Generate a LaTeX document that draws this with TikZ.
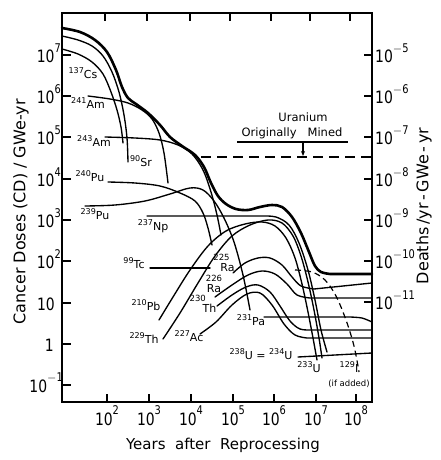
\documentclass[tikz,border=0pt]{standalone}
\usepackage{fontspec}
\setmainfont{DejaVu Sans}
\newfontfamily\numfont[FakeStretch=0.82]{DejaVu Sans}
\usetikzlibrary{arrows.meta}
\newcommand\sups[1]{\raisebox{0.6em}{\fontsize{12}{12}\selectfont #1}}
\newcommand\iso[2]{\raisebox{0.45em}{\fontsize{8}{8}\selectfont #1}#2}
\begin{document}
\begin{tikzpicture}[x=1pt,y=-1pt,
  curve/.style={line width=1.35pt, line cap=round, line join=round},
  tot/.style={line width=2.6pt, line cap=round, line join=round},
  lab/.style={font=\fontsize{11}{12}\selectfont, inner sep=0pt},
  num/.style={font=\numfont\fontsize{17}{18}\selectfont, inner sep=0pt},
  ttl/.style={font=\fontsize{16}{17}\selectfont, inner sep=0pt},
  tickline/.style={line width=1.4pt},
]
\useasboundingbox (0,0) rectangle (440,460);
\fill[white] (0,0) rectangle (440,460);

% frame
\draw[line width=1.8pt] (62,13) rectangle (372,402);

% x ticks
\foreach \x in {107,149,191,233,274,316,356} \draw[tickline] (\x,402) -- (\x,394);
\foreach \x in {105,147,190,230,271,310,350} \draw[tickline] (\x,13) -- (\x,21);
% left ticks
\foreach \y in {55,96,137,179,220,261,303,344,385} \draw[tickline] (62,\y) -- (71,\y);
% right ticks
\foreach \y in {55,96,137,179,220,261,302} \draw[tickline] (372,\y) -- (364,\y);

% left tick labels
\node[num, anchor=base east] (yl7) at (61,62.5) {10\sups{7}};
\node[num, anchor=base east] (yl6) at (61,103.5) {10\sups{6}};
\node[num, anchor=base east] (yl5) at (61,144.5) {10\sups{5}};
\node[num, anchor=base east] (yl4) at (61,186.5) {10\sups{4}};
\node[num, anchor=base east] (yl3) at (61,227.5) {10\sups{3}};
\node[num, anchor=base east] (yl2) at (61,268.5) {10\sups{2}};
\node[num, anchor=base east] (yl1) at (55,310) {10};
\node[num, anchor=base east] (yl0) at (54,351) {1};
\node[num, anchor=base east] (ylm) at (63,392) {10\sups{$-$1}};

% right tick labels
\node[num, anchor=base west] (yr5) at (375,62.5) {10\sups{$-$5}};
\node[num, anchor=base west] (yr6) at (375,103.5) {10\sups{$-$6}};
\node[num, anchor=base west] (yr7) at (375,144.5) {10\sups{$-$7}};
\node[num, anchor=base west] (yr8) at (375,186.5) {10\sups{$-$8}};
\node[num, anchor=base west] (yr9) at (375,227.5) {10\sups{$-$9}};
\node[num, anchor=base west] (yr10) at (375,268.5) {10\sups{$-$10}};
\node[num, anchor=base west] (yr11) at (375,309.5) {10\sups{$-$11}};

% bottom tick labels
\node[num, anchor=base] (x2) at (107,425) {10\sups{2}};
\node[num, anchor=base] (x3) at (149,425) {10\sups{3}};
\node[num, anchor=base] (x4) at (191,425) {10\sups{4}};
\node[num, anchor=base] (x5) at (233,425) {10\sups{5}};
\node[num, anchor=base] (x6) at (274,425) {10\sups{6}};
\node[num, anchor=base] (x7) at (316,425) {10\sups{7}};
\node[num, anchor=base] (x8) at (356,425) {10\sups{8}};

% axis titles
\node[ttl, font=\fontsize{15}{16}\selectfont] (xt) at (223,445) {Years\ \ after\ \ Reprocessing};
\node[ttl, rotate=90] (ytl) at (21,212) {Cancer Doses (CD) / GWe-yr};
\node[ttl, rotate=90] (ytr) at (424,206) {Deaths\,/yr\,-\,GWe\,-\,yr};

% Uranium originally mined
\node[font=\fontsize{11.5}{12}\selectfont, inner sep=0pt] (ur) at (303,117) {Uranium};
\node[font=\fontsize{11.5}{12}\selectfont, inner sep=0pt] (om) at (292,133) {Originally\ \ \ Mined};
\coordinate (ul1) at (237,142);
\coordinate (ul2) at (348,142);
\coordinate (ua) at (303,142);
\coordinate (ub) at (303,156);
\draw[line width=1.3pt] (ul1) -- (ul2);
\draw[line width=1.3pt, -{Stealth[length=5pt,width=4pt]}] (ua) -- (ub);
\draw[line width=1.6pt, dash pattern=on 10pt off 6pt] (201,157) -- (372,157);

% ---- curves ----
% total
\draw[tot] plot[smooth, tension=0.55] coordinates {(62,28) (80,32) (95,40) (107,52) (116,70) (122,87) (128,98) (136,104) (148,113) (160,125) (170,137) (182,146) (195,155) (204,167) (211,183) (218,196) (226,204) (236,209) (248,210) (260,207) (272,205) (282,207) (292,217) (301,233) (309,252) (315,266) (321,272) (330,274)} -- (372,274);
% 90Sr
\draw[curve] plot[smooth, tension=0.55] coordinates {(62,36) (78,40) (92,46) (103,56) (112,72) (119,92) (124,115) (127,138) (128,162)};
% 137Cs
\draw[curve] plot[smooth, tension=0.55] coordinates {(62,49) (78,54) (92,62) (103,74) (111,92) (117,110) (121,127) (123,143)};
% 241Am
\draw[curve] plot[smooth, tension=0.55] coordinates {(88,96) (110,99) (128,103) (142,110) (152,119) (159,133) (164,153) (168,183)};
% 243Am
\draw[curve] plot[smooth, tension=0.55] coordinates {(105,137) (135,138) (160,140) (178,145) (192,154) (203,170) (211,192) (217,215) (221,235)};
% 240Pu
\draw[curve] plot[smooth, tension=0.55] coordinates {(108,182) (135,183) (160,186) (180,193) (195,201) (203,213) (208,228) (212,245)};
% 239Pu
\draw[curve] plot[smooth, tension=0.55] coordinates {(85,206) (115,205) (145,201) (170,194) (190,188) (203,190) (214,201) (224,218) (234,242) (243,275) (250,310)};
% 237Np
\draw[curve] (147,216) -- (262,216) plot[smooth, tension=0.55] coordinates {(262,216) (276,217) (289,225) (299,243) (308,270) (315,300) (321,330) (327,352)};
% 229Th
\draw[curve] plot[smooth, tension=0.55] coordinates {(163,339) (180,313) (198,283) (215,256) (232,236) (250,225) (268,220) (282,223) (293,236) (301,256) (308,282) (314,310) (319,338) (322,358)};
% 210Pb
\draw[curve] plot[smooth, tension=0.55] coordinates {(159,320) (173,297) (190,270) (208,246) (226,231) (245,224) (262,222) (275,226) (286,238) (295,258) (302,284) (308,312) (313,338) (317,360)};
% 99Tc
\draw[curve] (150,268) -- (210,268);
% 225Ra
\draw[curve] plot[smooth, tension=0.55] coordinates {(233,273) (245,263) (258,258) (270,258) (282,265) (292,277) (301,286) (314,289)} -- (372,283);
% 226Ra
\draw[curve] plot[smooth, tension=0.55] coordinates {(215,297) (232,285) (248,275) (262,271) (275,274) (287,284) (297,295) (310,298)} -- (372,298);
% 230Th
\draw[curve] plot[smooth, tension=0.55] coordinates {(217,306) (232,295) (246,287) (258,285) (270,292) (280,306) (290,321) (300,329) (312,330)} -- (372,330);
% 227Ac
\draw[curve] plot[smooth, tension=0.55] coordinates {(200,334) (216,322) (232,305) (247,294) (260,293) (272,305) (284,324) (295,335) (307,338)} -- (372,338);
% 231Pa
\draw[curve] (264,317) -- (350,317) plot[smooth, tension=0.5] coordinates {(350,317) (362,318) (372,322)};
% 234U
\draw[curve] (298,357) -- (372,353);
% 129I dashed
\draw[line width=1.2pt, dash pattern=on 6pt off 4pt] plot[smooth, tension=0.55] coordinates {(295,270) (312,272) (325,280) (336,296) (346,320) (354,346) (359,372)};

% ---- isotope labels ----
\node[lab] (cs) at (83,73) {\iso{137}{Cs}};
\node[lab] (am1) at (88,103) {\iso{241}{Am}};
\node[lab] (am3) at (94,141) {\iso{243}{Am}};
\node[lab] (sr) at (141,161) {\iso{90}{Sr}};
\node[lab] (pu0) at (90,176) {\iso{240}{Pu}};
\node[lab] (pu9) at (95,214) {\iso{239}{Pu}};
\node[lab] (np) at (153,226) {\iso{237}{Np}};
\node[lab] (tc) at (134,263) {\iso{99}{Tc}};
\node[lab] (pb) at (146,305) {\iso{210}{Pb}};
\node[lab] (th9) at (144,338) {\iso{229}{Th}};
\node[lab] (ac) at (189,336) {\iso{227}{Ac}};
\node[lab, align=left] (ra5) at (224,263) {{\fontsize{8.5}{8.5}\selectfont 225}\\[-1pt]\hspace*{7pt}Ra};
\node[lab, align=left] (ra6) at (214,284) {{\fontsize{8.5}{8.5}\selectfont 226}\\[-1pt]\hspace*{1pt}Ra};
\node[lab, align=left] (th0) at (203,304) {{\fontsize{8.5}{8.5}\selectfont 230}\\[-1pt]\hspace*{13pt}Th};
\node[lab] (pa) at (251,320) {\iso{231}{Pa}};
\node[lab] (u8) at (261,354) {\iso{238}{U} = \iso{234}{U}};
\node[lab] (u3) at (309,367) {\iso{233}{U}};
\node[lab] (i9) at (349,367) {\iso{129}{I}};
\node[lab, font=\fontsize{8.5}{9}\selectfont] (ifa) at (349,384) {(if added)};
\end{tikzpicture}
\end{document}
